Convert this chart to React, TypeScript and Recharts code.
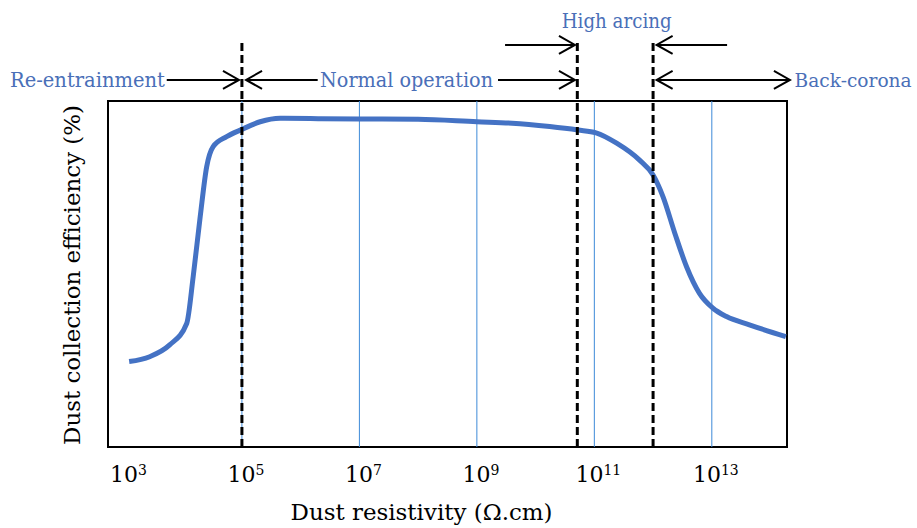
import React from 'react';
import { ComposedChart, Line, XAxis, YAxis, ReferenceLine, ReferenceArea, ReferenceDot } from 'recharts';

// log10 of dust resistivity (Ω.cm)
const logResistivity = [3.08, 3.43, 3.77, 4.06, 4.17, 4.29, 4.40, 4.51, 4.74, 5.0, 5.31, 5.65, 6.3, 7.0, 8.0, 9.0, 9.6, 10.24, 10.72, 11.03, 11.38, 11.77, 12.0, 12.17, 12.37, 12.57, 12.79, 13.02, 13.25, 13.64, 14.26];
// dust collection efficiency (relative %)
const efficiency = [24.7, 26.1, 29.5, 35.7, 49.2, 66.6, 81.0, 86.8, 89.7, 91.8, 94.0, 95.0, 94.9, 94.8, 94.7, 94.0, 93.6, 92.6, 91.6, 90.8, 87.8, 82.9, 78.6, 72.3, 61.8, 52.1, 44.4, 40.1, 37.7, 35.3, 31.9];

const xTicks = [3, 5, 7, 9, 11, 13];
const gridDecades = [5, 7, 9, 11, 13];
const regionBounds = [5, 10.71, 12];

const xDomain = [2.72, 14.28];
const yDomain = [0, 100];
const boundTop = 117.6;

// annotation arrows (log x start/end, level, heads)
const arrowStarts = [3.72, 5.07, 9.36, 12.06, 9.48, 12.06];
const arrowEnds = [4.95, 6.29, 10.67, 14.33, 10.67, 13.26];
const arrowLevels = [106.1, 106.1, 106.1, 106.1, 116.2, 116.2];
const arrowHeadStart = [false, true, false, true, false, true];
const arrowHeadEnd = [true, false, true, true, true, false];

// region labels
const labelTexts = ['Re-entrainment', 'Normal operation', 'Back-corona', 'High arcing'];
const labelX = [3.69, 6.33, 14.41, 11.38];
const labelY = [104.05, 104.05, 104.05, 121.1];
const labelAnchor = ['end', 'start', 'start', 'middle'];
const labelWidth = [155, 173, 117, 110];
const labelSize = [21, 21, 18, 21];

const data = logResistivity.map((x, i) => ({ x, eff: efficiency[i] }));

const FONT = '"DejaVu Serif", serif';
const BLUE_TEXT = '#4a6fb8';

const makeArrow = (hs: boolean, he: boolean) => (p: any) => {
  const { x1, y1, x2, y2 } = p;
  const L = 16, H = 9;
  return (
    <g stroke="#000" strokeWidth={2} fill="none">
      <line x1={x1} y1={y1} x2={x2} y2={y2} />
      {he && <polyline points={`${x2 - L},${y2 - H} ${x2},${y2} ${x2 - L},${y2 + H}`} />}
      {hs && <polyline points={`${x1 + L},${y1 - H} ${x1},${y1} ${x1 + L},${y1 + H}`} />}
    </g>
  );
};

const makeText = (t: string, anchor: string, w: number, fs: number) => (p: any) => (
  <text x={p.cx} y={p.cy} textAnchor={anchor} fill={BLUE_TEXT} fontFamily={FONT} fontSize={fs}
    textLength={w} lengthAdjust="spacingAndGlyphs">{t}</text>
);

const Tick = (p: any) => {
  const { x, y, payload } = p;
  return (
    <text x={x + 4} y={y + 27} textAnchor="middle" fill="#000" fontFamily={FONT} fontSize={22}>
      <tspan>10</tspan>
      <tspan dy={-7} fontSize={14}>{payload.value}</tspan>
    </text>
  );
};

const XTitle = (p: any) => {
  const vb = p.viewBox;
  return (
    <text x={vb.x + vb.width / 2 - 26} y={vb.y + 73} textAnchor="middle" fill="#000" fontFamily={FONT}
      fontSize={23} textLength={262} lengthAdjust="spacingAndGlyphs">Dust resistivity (Ω.cm)</text>
  );
};

const YTitle = (p: any) => {
  const vb = p.viewBox;
  const cx = vb.x + 80;
  const cy = vb.y + vb.height / 2 + 1;
  return (
    <text x={cx} y={cy} transform={`rotate(-90 ${cx} ${cy})`} textAnchor="middle" fill="#000" fontFamily={FONT}
      fontSize={23} textLength={340} lengthAdjust="spacingAndGlyphs">Dust collection efficiency (%)</text>
  );
};

export default function App() {
  return (
    <div style={{ position: 'absolute', left: 0, top: 0, width: 917, height: 528, background: '#fff' }}>
      <ComposedChart width={917} height={528} data={data} margin={{ top: 101, right: 130, bottom: 0, left: 0 }}>
        <XAxis type="number" dataKey="x" domain={xDomain} allowDataOverflow ticks={xTicks} tick={<Tick />}
          axisLine={false} tickLine={false} height={81} label={<XTitle />} />
        <YAxis type="number" domain={yDomain} width={108} tick={false} axisLine={false} tickLine={false} label={<YTitle />} />
        {gridDecades.map((d) => (
          <ReferenceLine key={'g' + d} x={d} stroke="#3d8ad8" strokeWidth={1} />
        ))}
        <ReferenceArea x1={xDomain[0]} x2={xDomain[1]} y1={yDomain[0]} y2={yDomain[1]} fill="none" fillOpacity={0}
          stroke="#000" strokeWidth={2} />
        <Line type="monotone" dataKey="eff" stroke="#4472c4" strokeWidth={5} dot={false} isAnimationActive={false} />
        {regionBounds.map((b) => (
          <ReferenceLine key={'b' + b} segment={[{ x: b, y: 0 }, { x: b, y: boundTop }]} ifOverflow="visible"
            stroke="#000" strokeWidth={3} strokeDasharray="8 4" />
        ))}
        {arrowStarts.map((s, i) => (
          <ReferenceLine key={'a' + i} segment={[{ x: s, y: arrowLevels[i] }, { x: arrowEnds[i], y: arrowLevels[i] }]}
            ifOverflow="visible" shape={makeArrow(arrowHeadStart[i], arrowHeadEnd[i])} />
        ))}
        {labelTexts.map((t, i) => (
          <ReferenceDot key={'t' + i} x={labelX[i]} y={labelY[i]} r={0} ifOverflow="visible"
            shape={makeText(t, labelAnchor[i], labelWidth[i], labelSize[i])} />
        ))}
      </ComposedChart>
    </div>
  );
}
